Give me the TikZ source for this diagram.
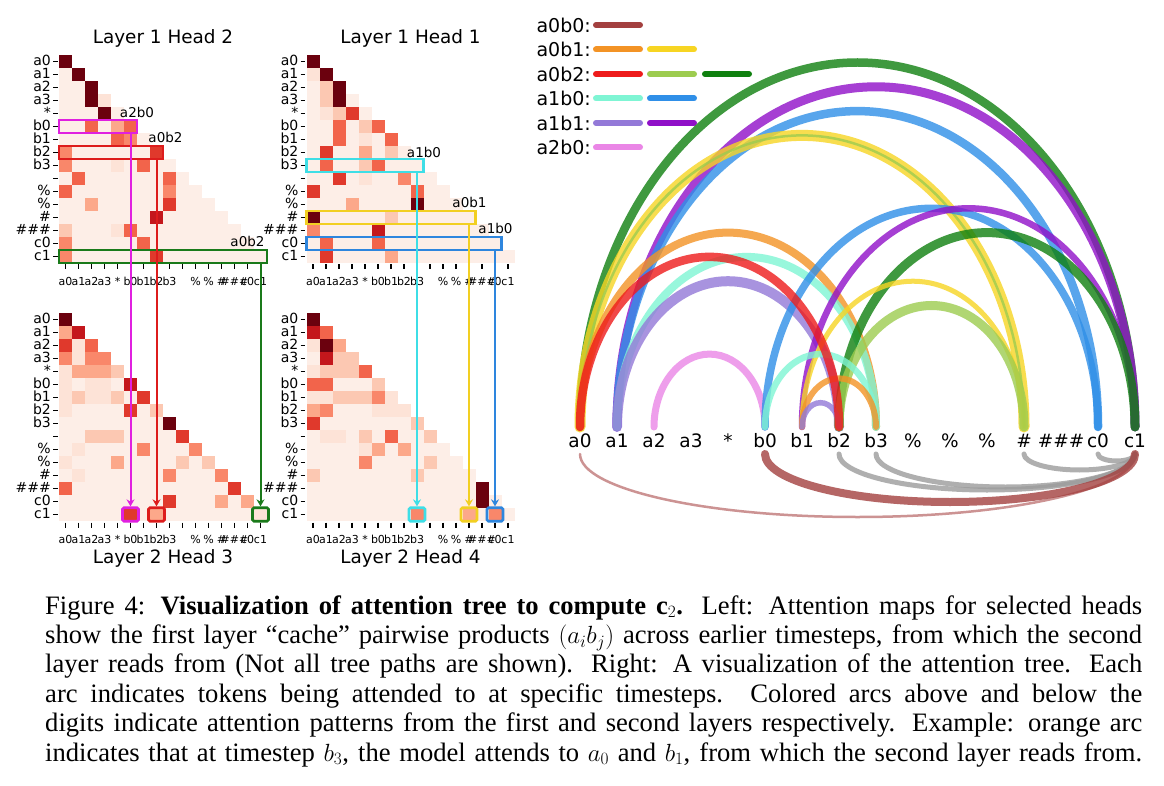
\documentclass[tikz,border=0pt]{standalone}
\usepackage{fontspec}
\setmainfont{Liberation Serif}
\newfontfamily\dv{DejaVu Sans}
\usetikzlibrary{arrows.meta}
% heatmap colours (Reds)
\definecolor{hbg}{HTML}{FDEEE7}
\definecolor{hA}{HTML}{FDE3D7}
\definecolor{hB}{HTML}{FCC8B2}
\definecolor{hC}{HTML}{FCA88A}
\definecolor{hD}{HTML}{F9876A}
\definecolor{hE}{HTML}{F2644B}
\definecolor{hF}{HTML}{E0392C}
\definecolor{hG}{HTML}{C4171C}
\definecolor{hH}{HTML}{6B010E}
% arc / legend colours
\definecolor{cBrown}{HTML}{A3403F}
\definecolor{cOrange}{HTML}{F39325}
\definecolor{cGold}{HTML}{F7D523}
\definecolor{cRed}{HTML}{EE1B1B}
\definecolor{cYG}{HTML}{9DCC4F}
\definecolor{cGreen}{HTML}{0F800F}
\definecolor{cAqua}{HTML}{7FF5D4}
\definecolor{cBlue}{HTML}{2F8FE8}
\definecolor{cMPurple}{HTML}{9379D8}
\definecolor{cDViolet}{HTML}{9010C8}
\definecolor{cViolet}{HTML}{EA86E6}
\definecolor{cGray}{HTML}{9C9C9C}
\definecolor{cPale}{HTML}{C07878}
% box colours
\definecolor{bxMag}{HTML}{E020E0}
\definecolor{bxRed}{HTML}{DD1C1C}
\definecolor{bxGreen}{HTML}{1A7A1A}
\definecolor{bxCyan}{HTML}{3EDEE6}
\definecolor{bxYellow}{HTML}{F2CF22}
\definecolor{bxBlue}{HTML}{2E86DE}

\newcommand\hmtok[1]{\ifcase#1 a0\or a1\or a2\or a3\or *\or b0\or b1\or b2\or b3\or \or \%\or \%\or \#\or \#\#\#\or c0\or c1\fi}
\newcommand\arctok[1]{\ifcase#1 a0\or a1\or a2\or a3\or *\or b0\or b1\or b2\or b3\or \%\or \%\or \%\or \#\or \#\#\#\or c0\or c1\fi}

\tikzset{
  tickln/.style={line width=1.1},
  ylab/.style={anchor=east,inner sep=0,text height=7.6,text depth=0,font=\dv\fontsize{14}{14}\selectfont},
  xlab/.style={anchor=center,inner sep=0,text height=8,text depth=0,font=\dv\fontsize{11}{11}\selectfont},
  ttl/.style={anchor=center,inner sep=0,font=\dv\fontsize{18.4}{20}\selectfont},
  boxlab/.style={anchor=center,inner sep=0,font=\dv\fontsize{13.5}{14}\selectfont},
  hbx/.style={draw=#1,line width=2.2,inner sep=0,minimum height=13},
  sbx/.style={draw=#1,line width=2.8,inner sep=0,minimum width=16,minimum height=13.5,rounded corners=1.5},
  arr/.style={line width=2,-{Stealth[length=7pt,width=8pt]}},
  tok/.style={anchor=center,inner sep=0,font=\dv\fontsize{18.5}{19}\selectfont},
  leglab/.style={anchor=east,inner sep=0,font=\dv\fontsize{19}{20}\selectfont},
  legln/.style={line width=6,line cap=round},
  arcst/.style={line cap=round,draw opacity=0.8},
  capline/.style={anchor=base west,inner sep=0,font=\fontsize{26.6}{29}\selectfont},
}

\newcommand\heatmap[4]{%
\begin{scope}[shift={(#2,#3)}]
\foreach \r in {0,...,15}{\fill[hbg] (0,\r*13) rectangle ({(\r+1)*13},{(\r+1)*13});}
\foreach \c/\r/\k in {#4}{\fill[\k] (\c*13,\r*13) rectangle ++(13,13);}
\foreach \r in {0,...,15}{
  \draw[tickln] (-6,\r*13+6.5) -- (-1.5,\r*13+6.5);
  \node[ylab] (#1y\r) at (-8,\r*13+6.5) {\hmtok{\r}};
  \draw[tickln] (\r*13+6.5,209.5) -- (\r*13+6.5,214.5);
  \node[xlab] (#1x\r) at (\r*13+6.5,226) {\hmtok{\r}};
}
\end{scope}}

\newcommand\uarc[3]{\pgfmathsetmacro\rx{18.5*(#2-#1)}\pgfmathsetmacro\ry{24.3*(#2-#1)}%
  \draw[arcst,#3] (u#1) arc[start angle=180,end angle=0,x radius=\rx pt,y radius=\ry pt];}
\newcommand\darc[4]{\pgfmathsetmacro\rx{18.5*(#2-#1)}%
  \draw[arcst,#3] (d#1) arc[start angle=180,end angle=360,x radius=\rx pt,y radius=#4 pt];}

\begin{document}
\begin{tikzpicture}[x=1pt,y=-1pt]
\useasboundingbox (0,0) rectangle (1164,786);
\fill[white] (0,0) rectangle (1164,786);

% ---------------- heatmaps ----------------
\heatmap{pa}{59}{55}{0/0/hH,1/1/hH,2/2/hH,2/3/hH,3/3/hA,3/4/hH,
2/5/hE,4/5/hC,5/5/hE,4/6/hE,5/6/hD,0/7/hD,7/7/hF,0/8/hD,4/8/hA,6/8/hE,
1/9/hE,8/9/hE,0/10/hE,8/10/hD,2/11/hC,8/11/hF,7/12/hG,0/13/hB,4/13/hA,5/13/hE,
0/14/hD,6/14/hE,0/15/hD,7/15/hF}
\heatmap{pb}{306.5}{55}{0/0/hH,0/1/hA,1/1/hH,1/2/hB,2/2/hH,1/3/hB,2/3/hH,1/4/hA,2/4/hB,3/4/hF,
2/5/hE,4/5/hB,5/5/hE,2/6/hE,4/6/hA,6/6/hE,1/7/hF,4/7/hC,6/7/hB,1/8/hE,4/8/hB,5/8/hE,
2/9/hF,4/9/hA,7/9/hD,0/10/hF,8/10/hE,3/11/hC,8/11/hH,0/12/hH,6/12/hB,0/13/hD,5/13/hG,
1/14/hE,5/14/hE,1/15/hF,6/15/hC}
\heatmap{pc}{59}{313}{0/0/hH,0/1/hC,1/1/hG,0/2/hF,1/2/hA,2/2/hE,0/3/hD,1/3/hA,2/3/hD,3/3/hD,
0/4/hA,1/4/hC,2/4/hC,3/4/hC,4/4/hB,0/5/hA,2/5/hA,3/5/hA,5/5/hG,
0/6/hA,1/6/hB,2/6/hA,3/6/hA,4/6/hB,6/6/hF,0/7/hA,5/7/hF,7/7/hB,8/8/hH,
2/9/hB,3/9/hB,4/9/hB,9/9/hF,1/10/hA,6/10/hD,10/10/hD,0/11/hA,4/11/hC,9/11/hB,11/11/hB,
1/12/hA,8/12/hD,12/12/hD,0/13/hE,13/13/hF,8/14/hF,12/14/hC,14/14/hC,5/15/hF,7/15/hC,15/15/hA}
\heatmap{pd}{306.5}{313}{0/0/hH,0/1/hG,1/1/hE,0/2/hA,1/2/hH,2/2/hC,1/3/hG,2/3/hB,3/3/hB,
0/4/hA,1/4/hB,2/4/hB,3/4/hB,4/4/hE,0/5/hE,1/5/hE,5/5/hB,
0/6/hA,1/6/hA,2/6/hB,3/6/hB,4/6/hB,5/6/hD,6/6/hA,0/7/hC,1/7/hD,5/7/hA,6/7/hA,7/7/hA,
0/8/hF,8/8/hB,1/9/hA,2/9/hA,4/9/hB,6/9/hE,9/9/hB,4/10/hA,5/10/hC,7/10/hC,4/11/hD,9/11/hB,
0/12/hB,8/12/hB,13/13/hH,13/14/hH,8/15/hD,12/15/hC,14/15/hD}

% titles
\node[ttl] (t1) at (163,38) {Layer 1 Head 2};
\node[ttl] (t2) at (410.5,38) {Layer 1 Head 1};
\node[ttl] (t3) at (163,558) {Layer 2 Head 3};
\node[ttl] (t4) at (410.5,558) {Layer 2 Head 4};

% boxes in first-layer maps
\node[hbx=bxMag,minimum width=78] (bm) at (98,126.5) {};
\node[hbx=bxRed,minimum width=104] (br) at (111,152.5) {};
\node[hbx=bxGreen,minimum width=208] (bg) at (163,256.5) {};
\node[hbx=bxCyan,minimum width=117] (bc) at (365,165.5) {};
\node[hbx=bxYellow,minimum width=169] (by) at (391,217.5) {};
\node[hbx=bxBlue,minimum width=195] (bb) at (404,243.5) {};
\node[boxlab] (lbm) at (137,112) {a2b0};
\node[boxlab] (lbr) at (165.5,137) {a0b2};
\node[boxlab] (lbg) at (247.5,241) {a0b2};
\node[boxlab] (lbc) at (424,152) {a1b0};
\node[boxlab] (lby) at (469.5,202) {a0b1};
\node[boxlab] (lbb) at (495.5,228.5) {a1b0};

% boxes in second-layer maps
\node[sbx=bxMag] (qm) at (130.5,514.5) {};
\node[sbx=bxRed] (qr) at (156.5,514.5) {};
\node[sbx=bxGreen] (qg) at (260.5,514.5) {};
\node[sbx=bxCyan] (qc) at (417,514.5) {};
\node[sbx=bxYellow] (qy) at (469,514.5) {};
\node[sbx=bxBlue] (qb) at (495,514.5) {};

% arrows
\draw[arr,bxMag] (qm |- bm.south) -- (qm.north);
\draw[arr,bxRed] (qr |- br.south) -- (qr.north);
\draw[arr,bxGreen] (qg |- bg.south) -- (qg.north);
\draw[arr,bxCyan] (qc |- bc.south) -- (qc.north);
\draw[arr,bxYellow] (qy |- by.south) -- (qy.north);
\draw[arr,bxBlue] (qb |- bb.south) -- (qb.north);

% ---------------- legend ----------------
\foreach \i/\lab in {0/a0b0,1/a0b1,2/a0b2,3/a1b0,4/a1b1,5/a2b0}{
  \node[leglab] (lg\i) at (591,25+24.5*\i) {\lab:};
  \coordinate (lga\i) at (596,25+24.5*\i);
  \coordinate (lgb\i) at (650,25+24.5*\i);
  \coordinate (lgc\i) at (705,25+24.5*\i);
}
\draw[legln,cBrown] (lga0) -- ++(44,0);
\draw[legln,cOrange] (lga1) -- ++(44,0);
\draw[legln,cGold] (lgb1) -- ++(44,0);
\draw[legln,cRed] (lga2) -- ++(44,0);
\draw[legln,cYG] (lgb2) -- ++(44,0);
\draw[legln,cGreen] (lgc2) -- ++(44,0);
\draw[legln,cAqua] (lga3) -- ++(44,0);
\draw[legln,cBlue] (lgb3) -- ++(44,0);
\draw[legln,cMPurple] (lga4) -- ++(44,0);
\draw[legln,cDViolet] (lgb4) -- ++(44,0);
\draw[legln,cViolet] (lga5) -- ++(44,0);

% ---------------- arc diagram ----------------
\foreach \i in {0,...,15}{
  \node[tok] (k\i) at (580+37*\i,441) {\arctok{\i}};
  \coordinate (u\i) at (580+37*\i,427);
  \coordinate (d\i) at (580+37*\i,454);
}
% upper arcs (first layer)
\uarc{0}{15}{cGreen,line width=8.5}
\uarc{1}{15}{cDViolet,line width=9}
\uarc{1}{14}{cBlue,line width=8.5}
\uarc{0}{12}{cGold,line width=11}
\uarc{0}{12}{cYG,line width=2.5}
\uarc{0}{8}{cOrange,line width=8}
\uarc{1}{8}{cAqua,line width=8}
\uarc{1}{7}{cMPurple,line width=10}
\uarc{2}{5}{cViolet,line width=7}
\uarc{5}{14}{cBlue,line width=7.5}
\uarc{6}{15}{cDViolet,line width=6.5}
\uarc{7}{15}{cGreen,line width=9}
\uarc{6}{12}{cGold,line width=5}
\uarc{7}{12}{cYG,line width=9}
\uarc{5}{8}{cAqua,line width=6.5}
\uarc{6}{8}{cOrange,line width=6}
\uarc{6}{7}{cMPurple,line width=5.5}
\uarc{0}{7}{cRed,line width=8.5}
% lower arcs (second layer)
\darc{0}{15}{cPale,line width=2.5}{63}
\darc{7}{15}{cGray,line width=5}{36}
\darc{8}{15}{cGray,line width=5}{33}
\darc{12}{15}{cGray,line width=5}{16}
\darc{14}{15}{cGray,line width=5}{7}
\darc{5}{15}{cBrown,line width=8}{48}

% ---------------- caption ----------------
\node[capline] (c1) at (45,614) {\hbox to 1097pt{Figure 4: \textbf{Visualization of attention tree to compute $\mathbf{c}_2$.} Left: Attention maps for selected heads}};
\node[capline] (c2) at (45,643.4) {\hbox to 1097pt{show the first layer “cache” pairwise products $(a_ib_j)$ across earlier timesteps, from which the second}};
\node[capline] (c3) at (45,672.8) {\hbox to 1097pt{layer reads from (Not all tree paths are shown). Right: A visualization of the attention tree. Each}};
\node[capline] (c4) at (45,702.2) {\hbox to 1097pt{arc indicates tokens being attended to at specific timesteps. Colored arcs above and below the}};
\node[capline] (c5) at (45,731.6) {\hbox to 1097pt{digits indicate attention patterns from the first and second layers respectively. Example: orange arc}};
\node[capline] (c6) at (45,761) {\hbox to 1097pt{indicates that at timestep $b_3$, the model attends to $a_0$ and $b_1$, from which the second layer reads from.}};
\end{tikzpicture}
\end{document}
